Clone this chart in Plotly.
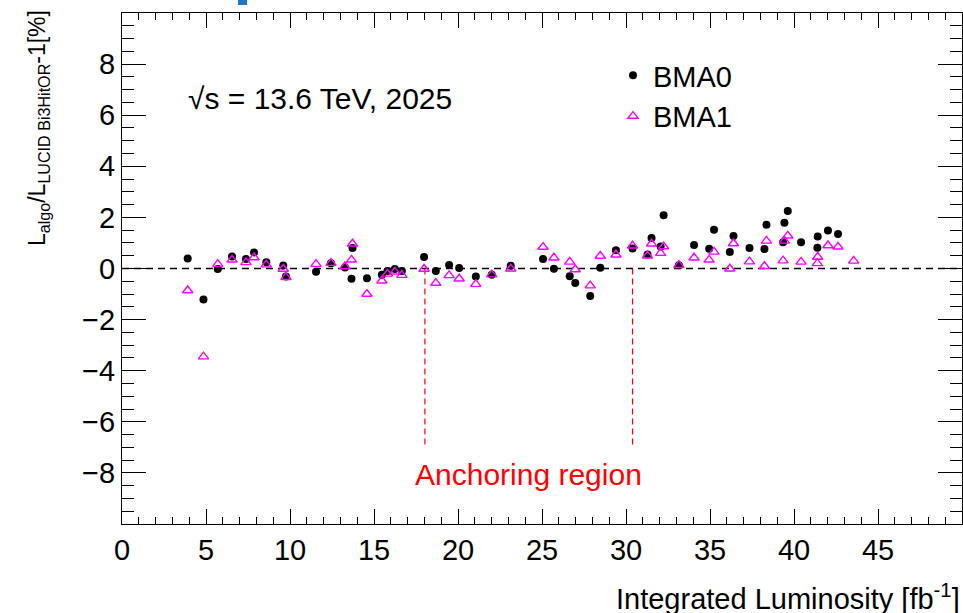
import plotly.graph_objects as go

# ---------------- data ----------------
lumi_bma0 = [3.91, 4.85, 5.70, 6.55, 7.38, 7.86, 8.59, 9.60, 9.76, 11.55, 12.44, 13.27, 13.72, 13.66,
             14.58, 15.47, 15.80, 16.24, 16.66, 17.98, 18.68, 19.47, 20.07, 21.06, 22.01, 23.14,
             25.06, 25.71, 26.65, 26.98, 27.87, 28.47, 29.40, 30.39, 31.28, 31.52, 32.06, 32.24,
             33.15, 34.05, 34.95, 35.24, 36.18, 36.40, 37.35, 38.24, 38.36, 39.35, 39.43, 39.63,
             40.42, 41.39, 41.41, 42.02, 42.62]
dev_bma0 = [0.39, -1.21, -0.02, 0.47, 0.37, 0.63, 0.24, 0.12, -0.31, -0.13, 0.21, 0.04, 0.80, -0.40,
            -0.38, -0.24, -0.10, -0.02, -0.10, 0.45, -0.10, 0.14, 0.02, -0.31, -0.24, 0.11,
            0.37, -0.01, -0.30, -0.57, -1.08, 0.03, 0.71, 0.78, 0.55, 1.19, 0.86, 2.08,
            0.13, 0.92, 0.77, 1.52, 0.65, 1.27, 0.80, 0.76, 1.71, 1.03, 1.79, 2.25,
            1.03, 0.81, 1.25, 1.49, 1.35]

lumi_bma1 = [3.91, 4.85, 5.70, 6.55, 7.38, 7.86, 8.59, 9.60, 9.76, 11.55, 12.44, 13.27, 13.72, 13.66,
             14.58, 15.47, 15.80, 16.24, 16.66, 17.98, 18.68, 19.47, 20.07, 21.06, 22.01, 23.14,
             25.06, 25.71, 26.65, 26.98, 27.87, 28.47, 29.40, 30.39, 31.28, 31.52, 32.06, 32.24,
             33.15, 34.05, 34.95, 35.24, 36.18, 36.40, 37.35, 38.24, 38.36, 39.35, 39.43, 39.63,
             40.42, 41.39, 41.41, 42.02, 42.62, 43.55]
dev_bma1 = [-0.86, -3.45, 0.17, 0.34, 0.24, 0.43, 0.15, -0.02, -0.34, 0.17, 0.21, 0.08, 0.97, 0.34,
            -1.00, -0.48, -0.21, -0.13, -0.26, -0.02, -0.57, -0.27, -0.40, -0.61, -0.24, -0.01,
            0.84, 0.42, 0.26, -0.04, -0.67, 0.49, 0.54, 0.89, 0.50, 0.97, 0.60, 0.86,
            0.13, 0.42, 0.34, 0.65, -0.01, 0.98, 0.27, 0.09, 1.08, 0.31, 1.08, 1.28,
            0.26, 0.20, 0.45, 0.90, 0.85, 0.30]

x_ticks = [0, 5, 10, 15, 20, 25, 30, 35, 40, 45]
y_ticks = [-8, -6, -4, -2, 0, 2, 4, 6, 8]
x_range = [0, 50]
y_range = [-10, 10]
anchor_start = 18.03
anchor_end = 30.39
anchor_bottom = -7.0
label_pos = (24.2, -8.08)

FONT = "Liberation Sans, Arial, Helvetica, sans-serif"

# figure geometry (page body margin removed by post_script)
W, H = 963, 613
ML, MR, MT, MB = 122, 1, 13, 89
PW, PH = W - ML - MR, H - MT - MB


def px(xp):  # page x pixel -> paper x
    return (xp - ML) / PW


def py(yp):  # page y pixel -> paper y
    return (H - MB - yp) / PH


fig = go.Figure()
fig.add_trace(go.Scatter(x=lumi_bma0, y=dev_bma0, mode="markers", name="BMA0",
                         marker=dict(symbol="circle", size=8, color="black")))
fig.add_trace(go.Scatter(x=lumi_bma1, y=dev_bma1, mode="markers", name="BMA1",
                         marker=dict(symbol="triangle-up-open", size=9, color="#ff00ff",
                                     line=dict(width=1.4, color="#ff00ff"))))

# zero line
fig.add_shape(type="line", xref="x", yref="y", x0=x_range[0], x1=x_range[1], y0=0, y1=0,
              line=dict(color="black", width=1.3, dash="7px,5px"), layer="below")
# anchoring region lines
for xa in (anchor_start, anchor_end):
    fig.add_shape(type="line", xref="x", yref="y", x0=xa, x1=xa, y0=0, y1=anchor_bottom,
                  line=dict(color="#ff0000", width=1.2, dash="6px,4px"), layer="below")

fig.add_annotation(x=label_pos[0], y=label_pos[1], xref="x", yref="y", text="Anchoring region",
                   showarrow=False, font=dict(family=FONT, size=30, color="#ff0000"))

fig.add_annotation(x=px(186), y=py(98), xref="paper", yref="paper", xanchor="left", yanchor="middle",
                   text="√s = 13.6 TeV, 2025", showarrow=False,
                   font=dict(family=FONT, size=30, color="black"))

fig.add_annotation(x=px(962), y=py(597), xref="paper", yref="paper", xanchor="right", yanchor="middle",
                   text="Integrated Luminosity [fb<sup>-1</sup>]", showarrow=False,
                   font=dict(family=FONT, size=29, color="black"))

fig.add_annotation(x=px(38), y=py(8), xref="paper", yref="paper", xanchor="center", yanchor="top",
                   textangle=-90, text="L<sub>algo</sub>/L<sub>LUCID Bi3HitOR</sub>-1[%]",
                   showarrow=False, font=dict(family=FONT, size=23, color="black"))

# small cropped blue logo fragment at top
fig.add_shape(type="rect", xref="paper", yref="paper", x0=px(238), x1=px(247),
              y0=py(5), y1=py(-3), line=dict(width=0), fillcolor="#1f77c8")

axis_common = dict(showline=True, linecolor="black", linewidth=1, mirror="allticks",
                   ticks="inside", tickcolor="black", showgrid=False, zeroline=False,
                   tickfont=dict(family=FONT, size=29, color="black"))

fig.update_xaxes(range=x_range, tickvals=x_ticks, ticklen=15, tickwidth=1,
                 minor=dict(dtick=1, ticklen=7, ticks="inside", tickcolor="black", showgrid=False),
                 **axis_common)
fig.update_yaxes(range=y_range, tickvals=y_ticks, ticklen=24, tickwidth=1,
                 minor=dict(dtick=0.5, tick0=0, ticklen=12, ticks="inside", tickcolor="black", showgrid=False),
                 **axis_common)

fig.update_layout(width=W, height=H, margin=dict(l=ML, r=MR, t=MT, b=MB, autoexpand=False),
                  paper_bgcolor="white", plot_bgcolor="white",
                  font=dict(family=FONT, color="black"),
                  legend=dict(x=px(613), y=py(50), xanchor="left", yanchor="top",
                              font=dict(family=FONT, size=29, color="black"),
                              bgcolor="rgba(0,0,0,0)", itemsizing="trace", tracegroupgap=0))

fig.write_html("out.html", config={"displayModeBar": False},
               post_script="document.body.style.margin='0';document.body.style.overflow='hidden';")
